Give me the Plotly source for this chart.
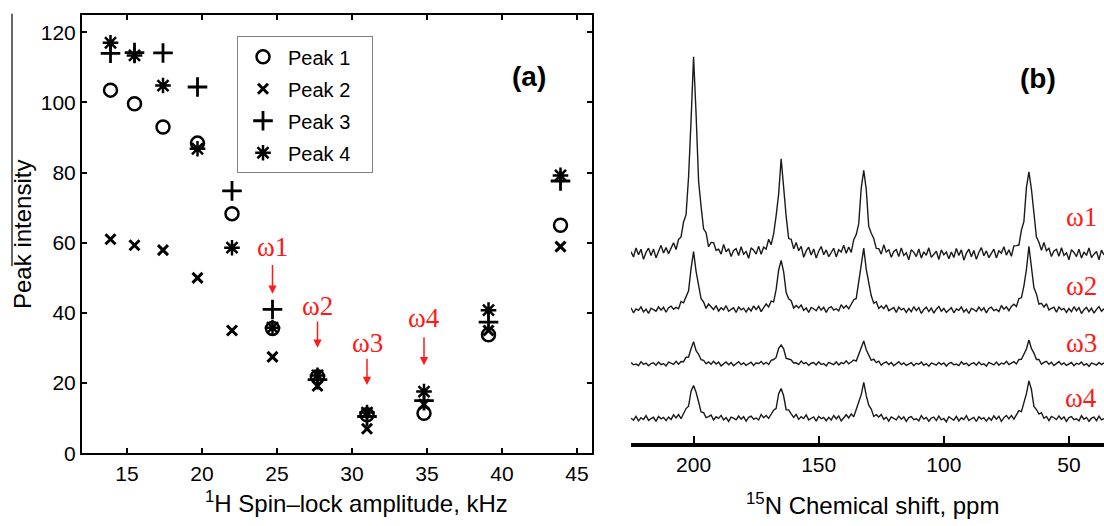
import plotly.graph_objects as go

# ---------------- Panel (a) data ----------------
spin_lock_khz = [13.9, 15.5, 17.4, 19.7, 22.0, 24.7, 27.7, 31.0, 34.8, 39.1, 43.9]
peak1 = [103.5, 99.6, 93.0, 88.4, 68.3, 35.6, 21.8, 11.0, 11.4, 33.8, 65.0]
peak2 = [61.0, 59.3, 57.9, 50.0, 35.0, 27.5, 19.2, 7.0, 14.0, 35.0, 58.9]
peak3 = [114.0, 114.2, 114.1, 104.4, 74.8, 41.0, 21.0, 10.5, 15.0, 37.4, 77.6]
peak4 = [117.0, 113.4, 104.8, 86.8, 58.6, 35.8, 22.2, 11.6, 17.6, 40.8, 79.2]
series_names = ["Peak 1", "Peak 2", "Peak 3", "Peak 4"]

omega_labels = ["ω1", "ω2", "ω3", "ω4"]
omega_x = [24.7, 27.7, 31.0, 34.8]
omega_text_y = [58.9, 42.1, 31.5, 38.5]
omega_tail_y = [54.1, 38.0, 27.4, 33.5]
omega_head_y = [45.5, 30.1, 19.5, 25.1]

x_ticks_a = [15, 20, 25, 30, 35, 40, 45]
y_ticks_a = [0, 20, 40, 60, 80, 100, 120]

# ---------------- Panel (b) data ----------------
ppm_grid = list(range(225, 35, -1))
peak_ppm = [200, 165, 132, 66]
trace_heights = [
    [199, 93, 87, 90],   # ω1
    [58, 52, 63, 63],    # ω2
    [22, 20, 23, 24],    # ω3
    [37, 32, 36, 39],    # ω4
]
trace_offsets = [192, 135, 80, 24]
noise_amp = [7.0, 4.0, 2.5, 3.5]
noise_start = [0, 17, 33, 49]
peak_hwhm = 1.6
NOISE = [0.3, -0.5, 0.8, -0.2, 0.6, -0.9, 0.1, 0.7, -0.4, 0.5, -0.8, 0.2, 0.9, -0.3,
         0.4, -0.6, 0.0, 0.6, -0.7, 0.3, -0.1, 0.8, -0.5, 0.2, -0.9, 0.4, 0.1, -0.4,
         0.7, -0.2, 0.5, -0.8, 0.3, 0.6, -0.3, 0.0, -0.6, 0.9, -0.1, 0.4, -0.7, 0.2,
         0.5, -0.5, 0.8, -0.3, 0.1, -0.9, 0.6, 0.2, -0.4, 0.7, -0.6, 0.3, -0.2, 0.9,
         -0.5, 0.0, 0.4, -0.8, 0.6, -0.1, 0.3, -0.7]
x_ticks_b = [200, 150, 100, 50]

W, H = 1104, 526
def px(x):
    return x / W
def py(y):
    return 1 - y / H

fig = go.Figure()

sans = "Liberation Sans, Arial, sans-serif"
serif = "Liberation Serif, Times New Roman, serif"

symbols = ["circle-open", "x-thin-open", "cross-thin-open", "asterisk-open"]
sizes = [13, 10, 14, 13]
widths = [2.5, 3.0, 2.8, 2.5]
for name, vals, sym, sz, lw in zip(series_names, [peak1, peak2, peak3, peak4], symbols, sizes, widths):
    fig.add_trace(go.Scatter(
        x=spin_lock_khz, y=vals, mode="markers", name=name + "&nbsp;&nbsp;&nbsp;",
        legendgroup=name,
        marker=dict(symbol=sym, size=sz, color="black", line=dict(color="black", width=lw)),
        xaxis="x", yaxis="y",
    ))

for k in range(4):
    ys = []
    for i, p in enumerate(ppm_grid):
        v = trace_offsets[k] + noise_amp[k] * NOISE[(i + noise_start[k]) % len(NOISE)]
        for c, h in zip(peak_ppm, trace_heights[k]):
            v += h / (1 + ((p - c) / peak_hwhm) ** 2)
        ys.append(v)
    fig.add_trace(go.Scatter(
        x=ppm_grid, y=ys, mode="lines", line=dict(color="#1a1a1a", width=1.4),
        showlegend=False, xaxis="x2", yaxis="y2", hoverinfo="skip",
    ))

def txt(x, y, text, size, family, color="black", angle=0):
    return dict(x=px(x), y=py(y), xref="paper", yref="paper", text=text, showarrow=False,
                xanchor="center", yanchor="middle", textangle=angle,
                font=dict(family=family, size=size, color=color))

annotations = []
for lab, x, ty, tl, hd in zip(omega_labels, omega_x, omega_text_y, omega_tail_y, omega_head_y):
    annotations.append(dict(x=x, y=ty, xref="x", yref="y", text=lab, showarrow=False,
                            xanchor="center", yanchor="middle",
                            font=dict(family=serif, size=27, color="#ff1a1a")))
    annotations.append(dict(x=x, y=hd, ax=x, ay=tl, xref="x", yref="y", axref="x", ayref="y",
                            text="", showarrow=True, arrowhead=2, arrowsize=1.1,
                            arrowwidth=1.5, arrowcolor="#ff1a1a"))

# right-panel ω labels
for lab, yy in zip(omega_labels, [222, 292, 350, 406]):
    annotations.append(txt(1081, yy, lab, 27, serif, "#ff1a1a"))

annotations += [
    txt(529, 78, "<b>(a)</b>", 28, sans),
    txt(1038, 80, "<b>(b)</b>", 28, sans),
    txt(356, 513, "<sup>1</sup>H Spin\u2013lock amplitude, kHz", 24, sans),
    txt(872, 515, "<sup>15</sup>N Chemical shift, ppm", 24, sans),
    txt(23, 240, "Peak intensity", 24, sans, angle=-90),
]

shapes = [
    dict(type="line", xref="paper", yref="paper", x0=px(12), x1=px(12), y0=py(14), y1=py(272),
         line=dict(color="black", width=1.2)),
]

fig.update_layout(
    width=W, height=H,
    margin=dict(l=0, r=0, t=0, b=0),
    paper_bgcolor="white", plot_bgcolor="white",
    font=dict(family=sans, size=21, color="black"),
    xaxis=dict(domain=[px(82), px(592)], range=[12, 46], tickvals=x_ticks_a,
               showline=True, linecolor="black", linewidth=2, mirror="ticks",
               ticks="inside", ticklen=5, tickwidth=1.5, tickcolor="black",
               showgrid=False, zeroline=False, tickfont=dict(size=21), anchor="y"),
    yaxis=dict(domain=[py(463), py(15)], range=[0, 125], tickvals=y_ticks_a,
               showline=True, linecolor="black", linewidth=2, mirror="ticks",
               ticks="inside", ticklen=5, tickwidth=1.5, tickcolor="black",
               showgrid=False, zeroline=False, tickfont=dict(size=21), anchor="x"),
    xaxis2=dict(domain=[px(631), 1.0], range=[225, 36], tickvals=x_ticks_b,
                showline=True, linecolor="black", linewidth=4,
                ticks="inside", ticklen=7, tickwidth=1.5, tickcolor="black",
                showgrid=False, zeroline=False, tickfont=dict(size=21), anchor="y2"),
    yaxis2=dict(domain=[py(452), py(20)], range=[0, 432], visible=False,
                showgrid=False, zeroline=False, anchor="x2"),
    legend=dict(x=px(237), y=py(37), xanchor="left", yanchor="top",
                bordercolor="#808080", borderwidth=1, bgcolor="white",
                font=dict(family=sans, size=20, color="black"),
                tracegroupgap=3, itemwidth=40),
    annotations=annotations,
    shapes=shapes,
    showlegend=True,
)

fig.write_html("out.html", config={"displayModeBar": False},
               post_script="document.body.style.margin='0';document.body.style.overflow='hidden';")
